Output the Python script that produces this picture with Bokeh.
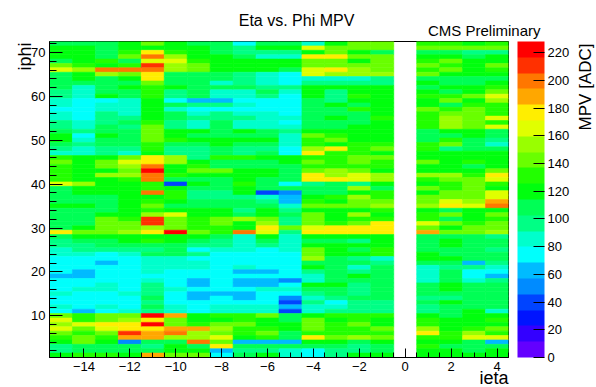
import colorsys
import math
from bokeh.plotting import figure
from bokeh.models import (ColumnDataSource, LinearColorMapper, ColorBar, FixedTicker,
                          SingleIntervalTicker, Label, Range1d)
from bokeh.embed import file_html
from bokeh.resources import INLINE

# ---------------- data ----------------
IETA = [-15, -14, -13, -12, -11, -10, -9, -8, -7, -6, -5, -4, -3, -2, -1, 1, 2, 3, 4]
IPHI_TOP_DOWN = list(range(72, 0, -1))          # rows listed from iphi 72 down to iphi 1
MPV_MAX = 228.0                                   # top of colour scale [ADC]
N_LEVELS = 20                                     # number of colour contours
LEVEL_CODES = "0123456789abcdefghij"             # colour level read per cell (0 = lowest band)
COLORBAR_TICKS = [0, 20, 40, 60, 80, 100, 120, 140, 160, 180, 200, 220]

# one string per ieta column, one level code per iphi bin (72 -> 1)
MPV_LEVELS = [
    "9aaa9ce99998 877677889aa9 87bcbbbbe999 9a99999f9887 766665666766 76cedecba88a",  # -15
    "9aaaabdaa977 766666778678 77aaaaaadaa9 9a9999aca988 766655667666 65bbecbcc99b",  # -14
    "9999bahd9999 a67788899a99 88accadaaaa9 999acccca998 665666677666 76ccfecba99b",  # -13
    "aabc9bhca9a9 977778989999 87cedcdbaaaa aaaabccdaa98 766666666766 67cdffig499a",  # -12
    "cafheihffcbb baaaaabccccb baffhjhhbbha bcbdiidfab98 977776788898 98jfjfgg989g",  # -11
    "aabdedd999a8 86979988aab9 88ddaab93abb a9aecccjaa99 977766667666 77gccghd9aac",  # -10
    "9aaabcc99999 95867877a9a9 888abca9a988 99aabbbca986 867766556556 66aabgddh9ac",  # -9
    "999aaaa99797 7586889999aa 99b99ca99988 99aaccbb9887 666666666566 77bacdcecf56",  # -8
    "6889aaa88897 76767877a9a9 88b99aaabaa8 9989daah7777 666756556556 77bbcbba5989",  # -7
    "9a87aaa77789 8666777799a9 89a99aa99937 89aacdfea986 666656557666 77caabcb598a",  # -6
    "9a87aa966687 666667678777 66aa99996945 578988c87777 666666467643 5399aa995977",  # -5
    "7eafccee78aa a9999999acbb dfbcbcff899a bcacccefa9ac cd9a877a9878 77acccbfa966",  # -4
    "accfccfd78a8 88a99a99abca fbbbbddf999b acaaabffa9aa a999999a9986 78babbbca988",  # -3
    "ccacacdd78aa ba9b999aaaab bbccbcee8dad ccadbcffa8a9 a8978a988898 88bbcbbd988a",  # -2
    "cc9ccccd88aa aaaaabaaaaab cacbbadda9bb cdbabfffaaab b78999999998 88baacbca99a",  # -1
    "bc9abcbc9a9a baacbbbb999b baacaadbacac cdabbecg9999 aa9777799989 88abbdfbabaa",  # 1
    "bc9acbca99a9 bc9bcddda9bc 8aaaaadcbbcc ef9c9cac9aa9 9a98999aa98a 999aaabba9aa",  # 2
    "ac89aaaa99aa cabcccccaa99 9aab9abccccc deaaabcc9999 995866799999 9aaaabde999a",  # 3
    "bc8aacba9abc edbbbebe9987 9aaaacfebaee ghacbccd8998 998765899999 97abacbe59aa",  # 4
]

# ---------------- decode to MPV values ----------------
xs, ys, vals = [], [], []
for ieta, col in zip(IETA, MPV_LEVELS):
    codes = col.replace(" ", "")
    if len(codes) != len(IPHI_TOP_DOWN):
        raise ValueError(f"column {ieta} has {len(codes)} bins")
    for iphi, c in zip(IPHI_TOP_DOWN, codes):
        lvl = LEVEL_CODES.index(c)
        xs.append(ieta)
        ys.append(iphi)
        vals.append((lvl + 0.5) * MPV_MAX / N_LEVELS)

src = ColumnDataSource(dict(ieta=xs, iphi=ys, mpv=vals))

# ROOT "pretty palette" (HLS rainbow, violet -> red) sampled for 20 contours
def root_colour(i):
    hue = 280.0 - (i + 1) * 5.6
    r, g, b = colorsys.hls_to_rgb((hue % 360) / 360.0, 0.5, 1.0)
    return "#%02x%02x%02x" % (round(r * 255), round(g * 255), round(b * 255))

palette = [root_colour(min(int((k + 0.99) * 50 / N_LEVELS), 49)) for k in range(N_LEVELS)]
mapper = LinearColorMapper(palette=palette, low=0, high=MPV_MAX)

FONT = "Liberation Sans"
W, H = 596, 387
FL, FR, FT, FB = 49, 88, 41, 30
FRAME_RIGHT = W - FR      # 508
FRAME_BOTTOM = H - FB     # 357

p = figure(width=W, height=H, x_range=Range1d(-15.5, 4.5), y_range=Range1d(0.5, 72.5),
           output_backend="svg", toolbar_location=None,
           min_border_left=FL, min_border_right=FR, min_border_top=FT, min_border_bottom=FB)

p.rect(x="ieta", y="iphi", width=1, height=1, source=src,
       fill_color={"field": "mpv", "transform": mapper},
       line_color={"field": "mpv", "transform": mapper}, line_width=0.6)

p.grid.visible = False
p.outline_line_color = "black"
p.outline_line_width = 1
p.background_fill_color = "white"
p.border_fill_color = "white"

xa = p.xaxis[0]
xa.ticker = SingleIntervalTicker(interval=2, num_minor_ticks=4)
xa.major_tick_in = 9
xa.major_tick_out = 0
xa.minor_tick_in = 5
xa.minor_tick_out = 0
xa.major_label_standoff = 4
ya = p.yaxis[0]
ya.ticker = SingleIntervalTicker(interval=10, num_minor_ticks=5)
ya.major_tick_in = 13
ya.major_tick_out = 0
ya.minor_tick_in = 7
ya.minor_tick_out = 0
ya.major_label_standoff = 4
for ax in (xa, ya):
    ax.axis_line_color = "black"
    ax.major_tick_line_color = "black"
    ax.minor_tick_line_color = "black"
    ax.major_label_text_font = FONT
    ax.major_label_text_font_size = "13px"
    ax.major_label_text_color = "black"

cb = ColorBar(color_mapper=mapper, location=(468, 0), width=27, height=H - FT - FB,
              padding=0, margin=0, ticker=FixedTicker(ticks=COLORBAR_TICKS),
              major_tick_in=11, major_tick_out=0, major_tick_line_color="black",
              minor_tick_line_color=None, bar_line_color=None, border_line_color=None,
              background_fill_alpha=0, label_standoff=3,
              major_label_text_font=FONT, major_label_text_font_size="13px",
              major_label_text_color="black")
p.add_layout(cb)

# Texts are Labels placed in side panels (side-panel annotations are not clipped to the frame).
# Each panel hugs the frame; stacked panels move outward by the size of the earlier ones.
def make_label(text, size, align="left", angle=0.0):
    return Label(x=0, y=0, x_units="screen", y_units="screen", text=text,
                 text_font=FONT, text_font_size=f"{size}px", text_align=align,
                 text_baseline="alphabetic", angle=angle, text_color="black")

# above panel: CMS label closest to frame, title label above it
lab_cms = make_label("CMS Preliminary", 15, "right")
lab_title = make_label("Eta vs. Phi MPV", 16, "center")
H_CMS = 16                       # estimated height of the CMS label panel
lab_cms.x, lab_cms.y = 540 - FL, FT - 30
lab_title.x, lab_title.y = 296 - FL, (FT - H_CMS) - 21
p.add_layout(lab_cms, "above")
p.add_layout(lab_title, "above")

# right panel: iphi, ieta, MPV labels stacked outward from the frame
lab_iphi = make_label("iphi", 18, "right", math.pi / 2)
lab_ieta = make_label("ieta", 18, "right")
lab_mpv = make_label("MPV [ADC]", 17, "right", math.pi / 2)
W_IPHI, W_IETA = 19, 29          # estimated widths of the first two right panels
lab_iphi.x, lab_iphi.y = 24 - FRAME_RIGHT, FRAME_BOTTOM - 42
lab_ieta.x, lab_ieta.y = 507 - (FRAME_RIGHT + W_IPHI), FRAME_BOTTOM - 377
lab_mpv.x, lab_mpv.y = 584 - (FRAME_RIGHT + W_IPHI + W_IETA), FRAME_BOTTOM - 43
p.add_layout(lab_iphi, "right")
p.add_layout(lab_ieta, "right")
p.add_layout(lab_mpv, "right")

open("out.html", "w").write(file_html(p, INLINE))
